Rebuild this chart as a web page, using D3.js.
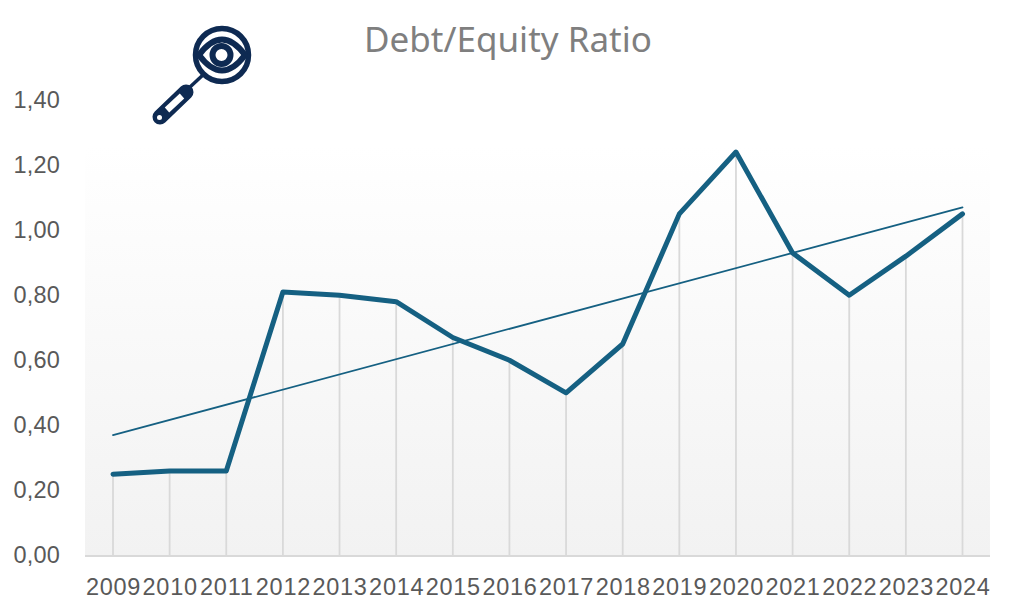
<!DOCTYPE html>
<html><head><meta charset="utf-8">
<script src="https://cdn.jsdelivr.net/npm/d3@7"></script>
<style>html,body{margin:0;padding:0;background:#fff}svg{display:block}</style>
</head><body><svg id="c" width="1012" height="609"></svg>
<script>
const years=["2009","2010","2011","2012","2013","2014","2015","2016","2017","2018","2019","2020","2021","2022","2023","2024"];
const ratio=[0.25,0.26,0.26,0.81,0.80,0.78,0.67,0.60,0.50,0.65,1.05,1.24,0.93,0.80,0.92,1.05];
const trendYears=["2009","2024"];
const trendValues=[0.37,1.07];
const yTicks=[0,0.2,0.4,0.6,0.8,1.0,1.2,1.4];
const titleText="Debt/Equity Ratio";

const svg=d3.select("#c");
const x=d3.scalePoint().domain(years).range([113,962.5]);
const y=d3.scaleLinear().domain([0,1.4]).range([555.5,100]);
const fmt=d=>d3.format(".2f")(d).replace(".",",");
const font="'Liberation Sans',Arial,sans-serif";

const defs=svg.append("defs");
const g=defs.append("linearGradient").attr("id","bg").attr("x1",0).attr("x2",0).attr("y1",0).attr("y2",1);
g.append("stop").attr("offset",0.1).attr("stop-color","#ffffff");
g.append("stop").attr("offset",1).attr("stop-color","#f2f2f2");
svg.append("rect").attr("x",85).attr("y",y(1.4)).attr("width",905).attr("height",y(0)-y(1.4)).attr("fill","url(#bg)");

svg.append("g").selectAll("line").data(years).join("line")
 .attr("x1",d=>x(d)).attr("x2",d=>x(d))
 .attr("y1",(d,i)=>y(ratio[i])).attr("y2",y(0))
 .attr("stroke","#d9d9d9").attr("stroke-width",1.8);

svg.append("line").attr("x1",85).attr("x2",990).attr("y1",y(0)+.5).attr("y2",y(0)+.5).attr("stroke","#d9d9d9").attr("stroke-width",1.8);

const yAxis=svg.append("g").attr("transform","translate(60,-1)")
 .call(d3.axisLeft(y).tickValues(yTicks).tickFormat(fmt).tickSize(0).tickPadding(0));
yAxis.select(".domain").remove();
yAxis.selectAll("text").attr("font-family",font).attr("font-size",23.5).attr("letter-spacing",0.2).attr("fill","#595959").attr("fill-opacity",1).attr("dy",".35em");

const xAxis=svg.append("g").attr("transform","translate(0,587)")
 .call(d3.axisBottom(x).tickSize(0).tickPadding(0));
xAxis.select(".domain").remove();
xAxis.selectAll("text").attr("font-family",font).attr("font-size",23.5).attr("letter-spacing",0.7).attr("fill","#595959").attr("dy",".35em");

svg.append("line")
 .attr("x1",x(trendYears[0])).attr("y1",y(trendValues[0]))
 .attr("x2",x(trendYears[1])).attr("y2",y(trendValues[1]))
 .attr("stroke","#156082").attr("stroke-width",1.8).attr("stroke-linecap","round");

const line=d3.line().x((d,i)=>x(years[i])).y(d=>y(d));
svg.append("path").datum(ratio).attr("d",line).attr("fill","none")
 .attr("stroke","#156082").attr("stroke-width",5).attr("stroke-linecap","round").attr("stroke-linejoin","round");

svg.append("text").attr("x",508).attr("y",52).attr("text-anchor","middle")
 .attr("font-family","'Noto Sans',sans-serif").attr("font-size",35).attr("fill","#7f7f7f").text(titleText);

// magnifier-eye icon
const ic=svg.append("g").attr("fill","none").attr("stroke","#0e2a52");
ic.append("circle").attr("cx",222).attr("cy",55).attr("r",26.5).attr("stroke-width",5.5);
ic.append("path").attr("d","M199,55 Q222,24 245,55 Q222,86 199,55Z").attr("fill","#fff").attr("stroke-width",6).attr("stroke-linejoin","round");
ic.append("circle").attr("cx",221.5).attr("cy",55).attr("r",9).attr("fill","#fff").attr("stroke-width",6);
ic.append("line").attr("x1",204).attr("y1",74).attr("x2",190).attr("y2",87).attr("stroke-width",3.5);
ic.append("line").attr("x1",186).attr("y1",92).attr("x2",160).attr("y2",117).attr("stroke-width",15).attr("stroke-linecap","round");
ic.append("line").attr("x1",182).attr("y1",96).attr("x2",167).attr("y2",110).attr("stroke","#fff").attr("stroke-width",6.5);
ic.append("circle").attr("cx",159.5).attr("cy",117.5).attr("r",2.5).attr("fill","#fff").attr("stroke","none");
</script></body></html>
